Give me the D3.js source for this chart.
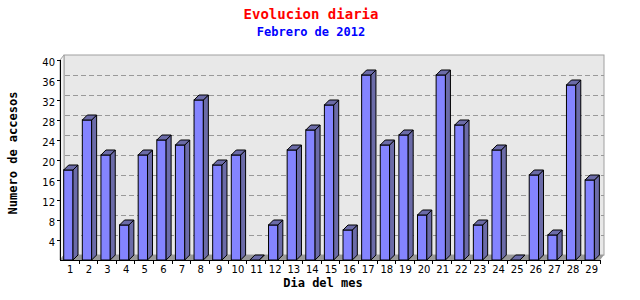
<!DOCTYPE html>
<html>
<head>
<meta charset="utf-8">
<script src="https://cdn.jsdelivr.net/npm/d3@7"></script>
<style>
  body { margin: 0; background: #fff; }
  svg { display: block; }
  .lbl { font-family: "DejaVu Sans", sans-serif; font-size: 10px; fill: #000; }
  .ttl { font-family: "DejaVu Sans Mono", monospace; font-weight: bold; }
</style>
</head>
<body>
<svg id="chart" width="640" height="300"></svg>
<script>
const days = d3.range(1, 30).map(String);
const accesos = [18, 28, 21, 7, 21, 24, 23, 32, 19, 21, 0, 7, 22, 26, 31, 6, 37, 23, 25, 9, 37, 27, 7, 22, 0, 17, 5, 35, 16];
const yTicks = [4, 8, 12, 16, 20, 24, 28, 32, 36, 40];

const svg = d3.select("#chart");
const pl = 60, pr = 600, pt = 60, pb = 260;
const dx = 4, dy = 5;   // depth of back plane
const bd = 5;           // depth of bars

const x = d3.scaleBand().domain(days).range([pl, pr]);
const y = d3.scaleLinear().domain([0, 40]).range([pb, pt]);

// back plane
svg.append("rect")
  .attr("x", pl + dx).attr("y", pt - dy)
  .attr("width", pr - pl).attr("height", pb - pt)
  .attr("fill", "#e8e8e8").attr("stroke", "#a0a0a0");

// left wall
svg.append("polygon")
  .attr("points", [[pl, pt], [pl + dx, pt - dy], [pl + dx, pb - dy], [pl, pb]].join(" "))
  .attr("fill", "#f2f2f2").attr("stroke", "#a0a0a0");

// grid lines on back plane
svg.append("g").selectAll("line")
  .data(yTicks.filter(d => d < 40))
  .join("line")
  .attr("x1", pl + dx + 1).attr("x2", pr + dx)
  .attr("y1", d => Math.round(y(d) - dy) + 0.5).attr("y2", d => Math.round(y(d) - dy) + 0.5)
  .attr("stroke", "#999").attr("stroke-dasharray", "5,3");

// floor
svg.append("polygon")
  .attr("points", [[pl, pb], [pl + dx, pb - dy], [pr + dx, pb - dy], [pr, pb]].join(" "))
  .attr("fill", "#999");

// bars
const bw = x.bandwidth() * 0.5;
const off = 3.7;
const bars = svg.append("g").selectAll("g")
  .data(accesos)
  .join("g");

bars.append("rect")
  .attr("x", (d, i) => x(days[i]) + off)
  .attr("y", d => y(d))
  .attr("width", bw)
  .attr("height", d => pb - y(d))
  .attr("fill", "#8484ff").attr("stroke", "#000");

bars.append("polygon")
  .attr("points", (d, i) => {
    const x1 = x(days[i]) + off + bw;
    return [[x1, y(d)], [x1 + bd, y(d) - bd], [x1 + bd, pb - bd], [x1, pb]].join(" ");
  })
  .attr("fill", "#6b6ba8").attr("stroke", "#000");

bars.append("polygon")
  .attr("points", (d, i) => {
    const x0 = x(days[i]) + off;
    return [[x0, y(d)], [x0 + bd, y(d) - bd], [x0 + bw + bd, y(d) - bd], [x0 + bw, y(d)]].join(" ");
  })
  .attr("fill", "#6b6ba8").attr("stroke", "#000");

// axes
svg.append("line")
  .attr("x1", pl + 0.5).attr("x2", pl + 0.5).attr("y1", pt).attr("y2", pb)
  .attr("stroke", "#000");
svg.append("line")
  .attr("x1", pl).attr("x2", pr).attr("y1", pb + 0.5).attr("y2", pb + 0.5)
  .attr("stroke", "#000");

// y ticks + labels
const yg = svg.append("g");
yg.selectAll("line")
  .data(yTicks)
  .join("line")
  .attr("x1", pl - 3).attr("x2", pl)
  .attr("y1", d => Math.round(y(d)) + 0.5).attr("y2", d => Math.round(y(d)) + 0.5)
  .attr("stroke", "#000");
yg.selectAll("text")
  .data(yTicks)
  .join("text")
  .attr("class", "lbl")
  .attr("x", pl - 5).attr("y", d => y(d) + 2)
  .attr("dy", "0.35em")
  .attr("text-anchor", "end")
  .text(d => d);

// x ticks + labels
const xg = svg.append("g");
xg.selectAll("line")
  .data(days)
  .join("line")
  .attr("x1", d => Math.round(x(d) + x.bandwidth()) + 0.5)
  .attr("x2", d => Math.round(x(d) + x.bandwidth()) + 0.5)
  .attr("y1", pb).attr("y2", pb + 4)
  .attr("stroke", "#000");
xg.selectAll("text")
  .data(days)
  .join("text")
  .attr("class", "lbl")
  .attr("x", d => x(d) + x.bandwidth() / 2 + 1)
  .attr("y", 273)
  .attr("text-anchor", "middle")
  .text(d => d);

// titles
svg.append("text").attr("class", "ttl")
  .attr("x", 311).attr("y", 19).attr("text-anchor", "middle")
  .attr("font-size", 14).attr("fill", "#ff0000")
  .text("Evolucion diaria");
svg.append("text").attr("class", "ttl")
  .attr("x", 311).attr("y", 36).attr("text-anchor", "middle")
  .attr("font-size", 12).attr("fill", "#0000ff")
  .text("Febrero de 2012");
svg.append("text").attr("class", "ttl")
  .attr("x", 323).attr("y", 287).attr("text-anchor", "middle")
  .attr("font-size", 12).attr("fill", "#000")
  .text("Dia del mes");
svg.append("text").attr("class", "ttl")
  .attr("transform", "translate(17,153) rotate(-90)")
  .attr("text-anchor", "middle")
  .attr("font-size", 12).attr("fill", "#000")
  .text("Numero de accesos");
</script>
</body>
</html>
